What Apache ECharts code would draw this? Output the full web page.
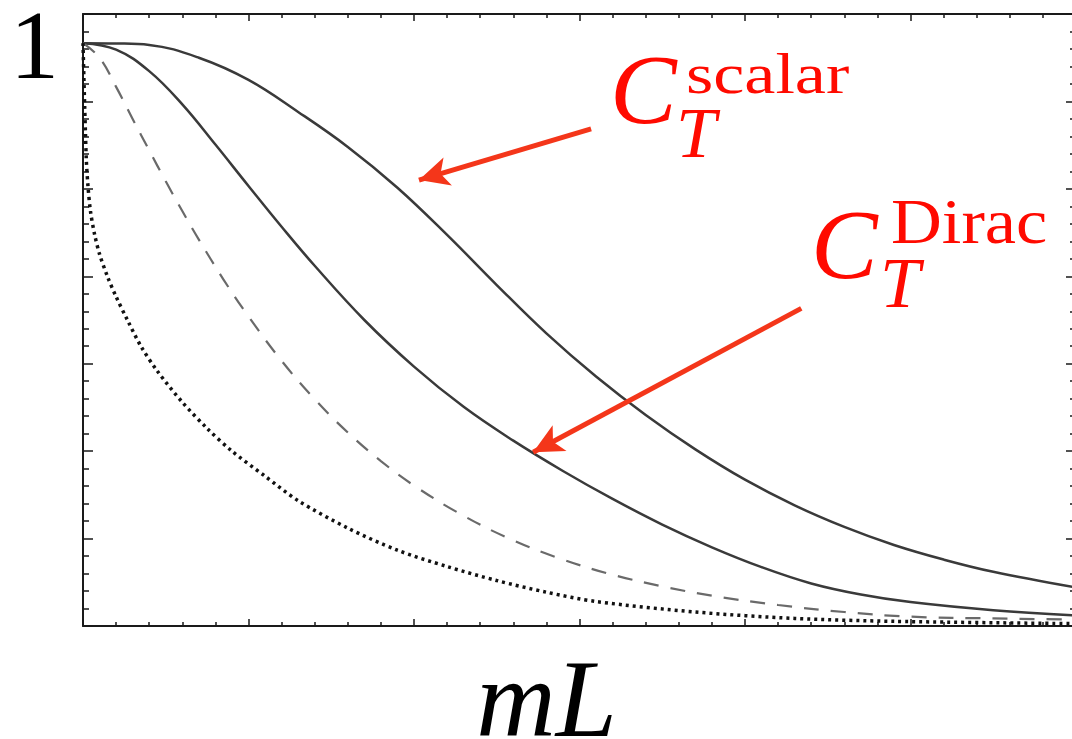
<!DOCTYPE html>
<html><head><meta charset="utf-8">
<script src="https://cdn.jsdelivr.net/npm/echarts@6/dist/echarts.min.js"></script>
<style>html,body{margin:0;padding:0;background:#fff}#c{width:1072px;height:739px}</style>
</head><body><div id="c"></div>
<script>
// x values (mL) and C_T values
const scalarX = [0,0.2,0.4,0.7,1.0,1.3,1.6,1.9,2.2,2.5,2.8,3.1,3.4,3.7,4.0,4.3,4.6,4.9,5.2,5.5,6.0];
const scalarY = [1.000,0.9995,0.997,0.975,0.937,0.882,0.822,0.752,0.671,0.585,0.502,0.428,0.362,0.303,0.251,0.207,0.170,0.139,0.114,0.093,0.066];

const diracX = [0,0.2,0.4,0.6,0.8,1.0,1.2,1.4,1.7,2.0,2.3,2.6,2.9,3.2,3.5,3.8,4.1,4.4,4.7,5.0,5.5,6.0];
const diracY = [1.0,0.989,0.952,0.895,0.826,0.755,0.685,0.618,0.525,0.445,0.376,0.318,0.266,0.218,0.174,0.135,0.101,0.073,0.054,0.041,0.027,0.018];

const dashedX = [0,0.1,0.2,0.3,0.4,0.5,0.6,0.7,0.85,1.0,1.2,1.4,1.6,1.8,2.0,2.3,2.6,2.9,3.2,3.5,3.8,4.2,4.6,5.0,5.5,6.0];
const dashedY = [1.0,0.975,0.925,0.870,0.816,0.763,0.712,0.663,0.594,0.531,0.455,0.389,0.332,0.283,0.241,0.189,0.147,0.114,0.088,0.068,0.052,0.036,0.024,0.016,0.013,0.011];

const dottedX = [0,0.005,0.01,0.015,0.02,0.03,0.045,0.07,0.1,0.15,0.2,0.27,0.35,0.45,0.6,0.75,0.9,1.1,1.3,1.6,1.9,2.2,2.5,2.8,3.1,3.7,4.3,4.9,6.0];
const dottedY = [1.0,0.945,0.893,0.845,0.800,0.755,0.712,0.672,0.638,0.598,0.565,0.524,0.480,0.437,0.384,0.339,0.300,0.257,0.215,0.168,0.130,0.102,0.078,0.058,0.042,0.024,0.013,0.008,0.004];

// annotation arrows: [from, to] in data coordinates
const arrows = [
  [[3.07, 0.853], [2.03, 0.765]],
  [[4.34, 0.545], [2.72, 0.298]]
];
const yLabels = [1];

const zip = (xs, ys) => xs.map((x, i) => [x, ys[i]]);

const chart = echarts.init(document.getElementById('c'), null, {renderer: 'canvas'});
const axisLine = {show: true, onZero: false, lineStyle: {color: '#1a1a1a', width: 2}};
const xTick = {show: true, inside: true, length: 7, lineStyle: {color: '#1a1a1a', width: 1.5}};
const xMinor = {show: true, splitNumber: 5, length: 4, lineStyle: {color: '#1a1a1a', width: 1.5}};
const yTick = {show: true, inside: true, length: 10, lineStyle: {color: '#1a1a1a', width: 1.5}};
const yMinor = {show: true, splitNumber: 5, length: 6, lineStyle: {color: '#1a1a1a', width: 1.5}};
const common = {type: 'value', splitLine: {show: false}, minorSplitLine: {show: false}};

const redText = '#ff0a00';
const serif = '"Liberation Serif", "Times New Roman", serif';
function txt(x, y, text, font, sx) {
  return {type: 'text', x: x, y: y, scaleX: sx || 1, silent: true,
    style: {text: text, fill: redText, font: font, textAlign: 'left', textVerticalAlign: 'middle'}};
}

chart.setOption({
  animation: false,
  backgroundColor: '#fff',
  grid: {left: 83, top: 14, width: 993, height: 612, containLabel: false, outerBoundsMode: 'none'},
  xAxis: [
    Object.assign({}, common, {position: 'bottom', min: 0, max: 6, interval: 1,
      axisLine: axisLine, axisTick: xTick, minorTick: xMinor, axisLabel: {show: false},
      name: 'mL', nameLocation: 'middle', nameGap: 26,
      nameTextStyle: {fontFamily: serif, fontStyle: 'italic', fontSize: 110, color: '#000', padding: [0, 66, 0, 0]}}),
    Object.assign({}, common, {position: 'top', min: 0, max: 6, interval: 1,
      axisLine: axisLine, axisTick: xTick, minorTick: xMinor, axisLabel: {show: false}})
  ],
  yAxis: [
    Object.assign({}, common, {position: 'left', min: 0, max: 1.05, interval: 0.15,
      axisLine: axisLine, axisTick: yTick, minorTick: yMinor,
      axisLabel: {show: true, customValues: yLabels, formatter: v => String(v), margin: 24,
        fontFamily: serif, fontSize: 98, color: '#000', verticalAlign: 'top', lineHeight: 18}}),
    Object.assign({}, common, {position: 'right', min: 0, max: 1.05, interval: 0.15,
      axisLine: axisLine, axisTick: yTick, minorTick: yMinor, axisLabel: {show: false}})
  ],
  series: [
    {type: 'line', name: 'scalar', data: zip(scalarX, scalarY), showSymbol: false, symbol: 'none',
      smooth: 0.4, lineStyle: {color: '#3a3a3a', width: 2.5},
      markLine: {silent: true, symbol: ['none', 'arrow'], symbolSize: [22, 30], precision: 4,
        label: {show: false}, emphasis: {disabled: true},
        lineStyle: {color: '#f4361a', width: 5, type: 'solid'},
        data: arrows.map(a => [{coord: a[0]}, {coord: a[1]}])}},
    {type: 'line', name: 'Dirac', data: zip(diracX, diracY), showSymbol: false, symbol: 'none',
      smooth: 0.4, lineStyle: {color: '#3a3a3a', width: 2.5}},
    {type: 'line', name: 'dashed', data: zip(dashedX, dashedY), showSymbol: false, symbol: 'none',
      smooth: 0.4, lineStyle: {color: '#6a6a6a', width: 2.2, type: [15, 12]}},
    {type: 'line', name: 'dotted', data: zip(dottedX, dottedY), showSymbol: false, symbol: 'none',
      smooth: 0.3, lineStyle: {color: '#111', width: 3.5, type: [3, 4], cap: 'butt'}}
  ],
  graphic: [
    txt(610, 97, 'C', 'italic 100px ' + serif),
    txt(686, 78, 'scalar', '56px ' + serif, 1.25),
    txt(676, 138, 'T', 'italic 72px ' + serif),
    txt(811, 252, 'C', 'italic 100px ' + serif),
    txt(891, 226, 'Dirac', '64px ' + serif, 1.1),
    txt(880, 288, 'T', 'italic 72px ' + serif)
  ]
});
</script></body></html>
